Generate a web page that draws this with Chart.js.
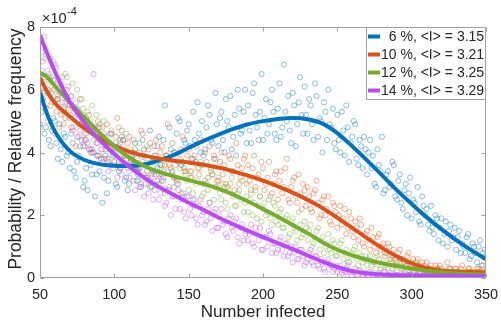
<!DOCTYPE html>
<html>
<head>
<meta charset="utf-8">
<script src="https://cdn.jsdelivr.net/npm/chart.js@4.4.1/dist/chart.umd.min.js"></script>
<style>
html,body{margin:0;padding:0;background:#fff;}
#wrap{width:501px;height:324px;}
</style>
</head>
<body>
<div id="wrap"><canvas id="c" width="501" height="324"></canvas></div>
<script>
// ---------- data (values in units of 1e-4) ----------
const seriesLabels = ["  6 %, <I> = 3.15", "10 %, <I> = 3.21", "12 %, <I> = 3.25", "14 %, <I> = 3.29"];
const xTitle = "Number infected";
const yTitle = "Probability / Relative frequency";
const xTicks = [50, 100, 150, 200, 250, 300, 350];
const yTicks = [0, 2, 4, 6, 8];

// scatter samples at even x
const scatterX = [
  50,52,54,56,58,60,62,64,66,68,
  70,72,74,76,78,80,82,84,86,88,
  90,92,94,96,98,100,102,104,106,108,
  110,112,114,116,118,120,122,124,126,128,
  130,132,134,136,138,140,142,144,146,148,
  150,152,154,156,158,160,162,164,166,168,
  170,172,174,176,178,180,182,184,186,188,
  190,192,194,196,198,200,202,204,206,208,
  210,212,214,216,218,220,222,224,226,228,
  230,232,234,236,238,240,242,244,246,248,
  250,252,254,256,258,260,262,264,266,268,
  270,272,274,276,278,280,282,284,286,288,
  290,292,294,296,298,300,302,304,306,308,
  310,312,314,316,318,320,322,324,326,328,
  330,332,334,336,338,340,342,344,346,348,
  350];
// scatter samples at odd x
const scatterX2 = [
  51,53,55,57,59,61,63,65,67,69,
  71,73,75,77,79,81,83,85,87,89,
  91,93,95,97,99,101,103,105,107,109,
  111,113,115,117,119,121,123,125,127,129,
  131,133,135,137,139,141,143,145,147,149,
  151,153,155,157,159,161,163,165,167,169,
  171,173,175,177,179,181,183,185,187,189,
  191,193,195,197,199,201,203,205,207,209,
  211,213,215,217,219,221,223,225,227,229,
  231,233,235,237,239,241,243,245,247,249,
  251,253,255,257,259,261,263,265,267,269,
  271,273,275,277,279,281,283,285,287,289,
  291,293,295,297,299,301,303,305,307,309,
  311,313,315,317,319,321,323,325,327,329,
  331,333,335,337,339,341,343,345,347,349];

const blueDots = [
  4.9,5.7,4.8,4.4,4.7,5.0,3.8,4.1,4.6,3.9,
  3.5,4.3,3.2,3.9,4.4,3.1,2.8,3.6,4.0,3.3,
  3.4,2.4,3.9,3.1,4.2,3.7,2.9,3.5,4.4,3.2,
  3.0,3.9,4.3,3.3,2.9,4.1,3.6,4.7,3.4,3.9,
  4.5,3.3,5.5,3.8,4.1,3.2,4.6,5.0,3.7,4.3,
  4.9,3.8,4.4,5.6,4.0,3.9,4.8,5.2,4.3,5.9,
  4.2,5.3,4.0,5.0,5.8,4.5,3.9,5.4,4.7,6.0,
  5.5,4.3,6.2,4.8,5.3,4.4,5.7,4.9,6.0,4.6,
  5.4,4.5,6.8,5.0,4.7,5.9,4.2,5.6,5.2,6.1,
  4.6,5.5,4.4,5.8,5.1,4.0,5.3,6.0,4.8,4.3,
  5.2,4.0,4.7,5.5,3.7,4.5,4.9,3.6,4.2,4.5,
  3.3,4.4,3.9,2.9,3.6,4.5,2.8,3.4,3.0,3.6,
  2.5,3.3,2.2,3.0,2.7,1.9,2.4,2.9,1.7,2.3,
  2.2,1.5,1.6,2.0,1.2,1.9,1.4,1.0,1.7,1.3,
  0.9,1.5,1.1,0.8,1.4,0.7,1.0,0.5,1.2,0.8,
  0.7];
const blueDots2 = [
  5.3,4.6,5.9,4.2,5.1,4.3,4.9,3.7,4.5,4.0,
  4.6,3.4,3.7,4.2,2.9,3.5,4.1,3.3,2.6,3.9,
  3.8,3.2,2.7,3.6,4.0,3.0,3.4,4.5,3.1,2.8,
  3.7,4.0,3.1,3.5,4.4,3.2,3.8,2.9,4.2,3.5,
  3.6,4.4,3.9,4.8,3.4,4.0,5.1,3.6,4.4,4.7,
  4.2,5.3,3.7,4.6,5.0,4.1,5.5,4.4,3.8,4.9,
  5.1,4.4,5.7,4.8,4.1,5.2,6.0,4.6,5.3,4.3,
  4.7,5.9,5.2,4.4,6.5,5.1,4.6,5.6,5.3,4.4,
  6.2,4.8,5.3,5.8,4.3,5.5,4.9,6.4,4.6,5.2,
  5.7,4.9,6.2,4.5,5.0,5.6,4.4,4.9,5.4,4.1,
  4.4,5.3,3.9,4.8,4.3,5.0,3.8,4.4,3.5,4.1,
  4.0,3.5,3.0,4.1,3.4,2.7,3.3,2.9,3.7,2.6,
  3.1,2.4,2.8,2.0,3.2,2.5,2.1,1.8,2.6,2.0,
  1.7,2.3,1.4,1.9,1.6,1.1,1.8,1.5,1.2,1.6,
  1.3,0.8,1.0,1.3,0.6,1.1,0.8,1.0,0.4,0.9];

const orangeDots = [
  4.8,6.1,5.4,6.3,5.9,4.6,5.7,5.2,4.9,5.8,
  5.5,4.7,4.2,5.3,4.9,4.4,5.0,4.1,4.7,4.3,
  3.9,4.8,4.3,3.7,4.6,4.0,5.1,3.5,4.4,3.8,
  4.5,3.6,4.1,3.4,4.7,3.9,3.2,4.3,3.7,4.4,
  3.3,4.2,3.6,4.9,3.5,4.0,3.1,3.8,4.5,3.4,
  4.1,3.2,3.9,3.5,4.4,3.0,3.7,4.2,3.3,3.8,
  3.1,4.0,3.6,2.9,3.8,3.4,4.3,3.0,3.5,3.9,
  3.6,2.8,3.9,3.2,2.6,3.5,3.0,3.7,2.7,3.3,
  2.5,3.4,2.9,3.8,2.4,3.1,2.6,3.3,2.2,2.8,
  2.9,2.2,2.7,3.1,1.9,2.5,2.0,2.6,1.7,2.3,
  1.6,2.3,1.9,1.4,2.1,1.5,1.8,1.2,1.7,1.0,
  1.5,0.9,1.3,0.8,1.4,1.0,0.7,1.1,0.6,0.9,
  0.5,0.9,0.6,0.4,0.8,0.5,0.3,0.6,0.4,0.2,
  0.5,0.3,0.2,0.4,0.1,0.3,0.2,0.5,0.3,0.1,
  0.3,0.2,0.4,0.1,0.3,0.2,0.1,0.3,0.2,0.4,
  0.2];
const orangeDots2 = [
  5.6,6.4,5.0,5.5,6.0,5.3,4.8,5.6,5.1,5.4,
  4.8,5.4,4.5,5.7,4.2,4.6,5.2,4.0,4.8,5.0,
  4.4,3.8,4.9,4.1,3.6,4.5,4.2,4.7,3.9,4.3,
  3.8,4.4,3.5,4.0,4.6,3.6,4.1,3.3,3.9,4.2,
  4.0,3.4,3.9,3.6,4.3,3.2,3.7,4.1,3.5,3.9,
  3.4,3.8,4.2,3.3,3.6,4.0,3.2,3.5,3.9,3.1,
  3.7,3.3,3.0,3.9,3.4,2.8,3.6,3.2,3.8,3.0,
  3.1,3.5,2.9,3.3,3.7,2.8,3.2,2.6,3.0,3.4,
  3.1,2.7,3.5,2.5,2.9,3.2,2.4,2.7,3.0,2.3,
  2.6,2.1,2.8,2.4,2.0,2.6,2.2,1.8,2.4,2.1,
  2.0,1.7,2.2,1.6,1.9,1.3,1.6,1.9,1.1,1.4,
  1.2,1.6,1.0,1.3,0.9,1.1,0.8,1.0,0.7,0.6,
  0.8,0.6,0.5,0.7,0.4,0.6,0.5,0.3,0.5,0.4,
  0.3,0.4,0.2,0.3,0.4,0.2,0.1,0.3,0.2,0.3,
  0.2,0.3,0.1,0.2,0.3,0.1,0.2,0.3,0.1,0.2];

const greenDots = [
  6.2,5.9,7.1,6.5,5.6,6.3,5.8,6.0,5.3,6.4,
  5.1,6.2,5.4,4.9,5.7,4.6,5.3,5.0,4.4,5.2,
  4.9,4.1,4.5,3.8,4.7,4.2,3.6,4.4,3.9,4.6,
  3.4,4.0,3.6,3.1,3.9,3.3,4.2,2.9,3.5,3.7,
  3.0,3.6,2.7,3.4,3.8,2.9,3.2,3.5,2.6,3.3,
  2.8,3.4,2.5,3.1,3.7,2.7,3.0,2.4,3.3,2.9,
  3.2,2.5,2.9,2.2,3.0,2.6,2.3,2.8,3.1,2.4,
  2.1,2.7,2.4,1.9,2.6,2.2,2.0,2.5,1.7,2.3,
  1.7,2.2,1.6,2.0,1.4,1.9,1.5,2.1,1.3,1.8,
  1.2,1.7,1.1,1.5,0.9,1.3,1.0,1.4,0.8,1.1,
  0.7,1.1,0.6,0.9,0.5,0.8,1.0,0.4,0.7,0.6,
  0.4,0.7,0.5,0.3,0.6,0.4,0.8,0.3,0.5,0.4,
  0.2,0.5,0.3,0.4,0.1,0.3,0.2,0.4,0.2,0.3,
  0.1,0.3,0.2,0.1,0.3,0.2,0.1,0.2,0.3,0.1,
  0.2,0.1,0.1,0.2,0.1,0.2,0.1,0.1,0.2,0.1,
  0.1];
const greenDots2 = [
  6.6,7.0,6.0,6.4,6.9,5.7,6.2,5.9,6.5,5.5,
  5.8,5.3,6.0,4.9,5.4,5.1,4.7,5.5,4.5,4.8,
  4.4,5.0,4.2,4.6,3.9,4.3,4.8,3.7,4.1,3.6,
  4.1,3.5,3.8,4.3,3.2,3.6,3.0,3.7,3.4,3.1,
  3.5,3.1,3.9,2.8,3.3,3.6,3.0,2.7,3.4,3.1,
  3.2,2.7,3.0,3.5,2.6,3.1,2.8,3.4,2.5,2.9,
  2.7,3.0,2.4,2.8,3.2,2.3,2.7,2.5,2.1,2.6,
  2.5,2.0,2.8,2.3,1.8,2.4,2.1,1.9,2.4,1.8,
  2.1,1.6,1.9,1.3,1.8,1.6,1.2,1.7,1.4,1.6,
  1.5,1.0,1.3,1.6,1.2,0.8,1.1,0.9,1.2,0.7,
  0.9,1.2,0.8,0.5,0.7,0.9,0.6,0.8,0.5,0.7,
  0.6,0.4,0.5,0.7,0.3,0.5,0.4,0.6,0.3,0.4,
  0.4,0.3,0.2,0.4,0.3,0.2,0.4,0.2,0.3,0.1,
  0.2,0.1,0.2,0.3,0.1,0.2,0.1,0.2,0.1,0.2,
  0.1,0.2,0.1,0.1,0.2,0.1,0.1,0.2,0.1,0.1];

const purpleDots = [
  7.5,6.9,7.3,6.4,6.1,6.8,5.7,6.2,5.4,6.0,
  5.2,4.8,5.6,4.5,4.9,4.2,4.3,4.0,6.5,3.9,
  4.8,3.7,4.1,3.4,4.6,3.9,3.2,4.3,3.6,4.0,
  3.2,3.8,2.8,3.5,3.0,2.6,3.4,3.1,2.5,3.3,
  2.5,3.1,2.3,2.8,2.0,2.6,3.0,2.2,2.7,1.9,
  2.6,2.0,2.3,1.7,2.5,2.1,1.8,2.4,1.5,2.2,
  1.6,2.2,1.8,1.3,2.0,1.5,1.9,1.1,1.7,1.4,
  1.2,1.7,1.0,1.4,1.6,0.9,1.3,1.5,0.8,1.1,
  0.9,1.3,0.7,1.1,0.8,0.5,1.0,0.6,0.9,0.4,
  0.6,0.9,0.4,0.7,0.3,0.5,0.2,0.6,0.4,0.3,
  0.2,0.4,0.1,0.3,0.2,0.05,0.3,0.1,0.2,0.1,
  0.1,0.2,0.05,0.1,0.15,0.05,0.2,0.1,0.05,0.1,
  0.1,0.05,0.1,0.15,0.05,0.1,0.0,0.1,0.05,0.1,
  0.05,0.1,0.05,0.1,0.0,0.1,0.05,0.1,0.05,0.1,
  0.1,0.05,0.0,0.1,0.05,0.1,0.05,0.0,0.1,0.05,
  0.05];
const purpleDots2 = [
  7.2,7.7,6.6,7.0,6.3,6.7,5.9,6.4,5.6,6.1,
  5.8,5.1,5.4,4.7,5.2,4.4,4.9,4.1,4.6,4.3,
  4.1,4.6,3.8,4.3,3.5,4.0,3.7,3.3,3.9,3.5,
  3.6,3.1,3.4,2.9,3.7,3.0,2.7,3.2,2.8,3.1,
  2.7,3.2,2.4,2.9,2.6,2.2,2.8,2.5,2.1,2.6,
  2.2,2.5,1.9,2.3,2.0,1.7,2.2,1.9,2.1,1.6,
  2.0,1.7,1.4,1.9,1.6,1.8,1.3,1.6,1.2,1.5,
  1.4,1.1,1.6,1.2,0.9,1.3,1.0,1.4,1.1,0.8,
  1.2,0.9,1.1,0.7,1.0,0.8,0.6,0.9,0.7,0.5,
  0.8,0.5,0.7,0.4,0.6,0.3,0.5,0.4,0.2,0.4,
  0.3,0.15,0.2,0.4,0.1,0.2,0.1,0.25,0.1,0.15,
  0.05,0.15,0.1,0.0,0.1,0.2,0.05,0.1,0.15,0.05,
  0.1,0.0,0.05,0.1,0.1,0.05,0.1,0.05,0.0,0.1,
  0.05,0.1,0.1,0.05,0.1,0.0,0.05,0.1,0.1,0.05,
  0.0,0.1,0.05,0.1,0.05,0.0,0.1,0.05,0.1,0.05];

// fitted curves
const lineX = [50,55,60,70,80,90,100,110,120,130,140,150,160,170,180,190,200,210,220,230,240,250,260,270,280,290,300,310,320,330,340,350];
const blueLine   = [5.93,5.20,4.68,4.05,3.76,3.63,3.58,3.57,3.62,3.75,3.92,4.15,4.37,4.57,4.75,4.90,5.00,5.07,5.10,5.06,4.92,4.62,4.20,3.75,3.28,2.80,2.36,1.94,1.56,1.21,0.89,0.60];
const orangeLine = [6.38,5.93,5.58,5.15,4.77,4.46,4.21,4.03,3.90,3.81,3.74,3.68,3.61,3.52,3.40,3.26,3.10,2.92,2.72,2.49,2.23,1.92,1.60,1.27,0.96,0.69,0.47,0.32,0.24,0.20,0.19,0.18];
const greenLine  = [6.54,6.40,6.12,5.60,5.11,4.63,4.20,3.84,3.57,3.38,3.24,3.12,3.00,2.85,2.66,2.44,2.20,1.95,1.69,1.43,1.14,0.90,0.72,0.58,0.47,0.38,0.30,0.23,0.18,0.14,0.12,0.10];
const purpleLine = [7.74,7.14,6.58,5.62,4.94,4.40,3.95,3.55,3.20,2.90,2.65,2.40,2.17,1.93,1.71,1.50,1.30,1.11,0.92,0.72,0.52,0.35,0.22,0.15,0.11,0.09,0.08,0.07,0.07,0.07,0.06,0.06];

// ---------- styling ----------
const colors = ['rgb(0,114,189)', 'rgb(217,83,25)', 'rgb(119,172,48)', 'rgb(183,76,245)'];
const dotColors = ['rgba(0,114,189,0.5)', 'rgba(217,83,25,0.5)', 'rgba(119,172,48,0.5)', 'rgba(183,76,245,0.5)'];
const FONT = "'Liberation Sans', Arial, Helvetica, sans-serif";
const TEXT = '#262626';
const AXIS = '#a0a0a0';

const pts = (xs, ys) => xs.map((x, i) => ({x: x, y: ys[i]}));
const lines = [blueLine, orangeLine, greenLine, purpleLine];
const dots = [blueDots, orangeDots, greenDots, purpleDots];
const dots2 = [blueDots2, orangeDots2, greenDots2, purpleDots2];

const datasets = [];
for (let k = 3; k >= 0; k--) {
  datasets.push({
    type: 'line', data: pts(lineX, lines[k]), borderColor: colors[k], borderWidth: 4,
    pointRadius: 0, fill: false, cubicInterpolationMode: 'monotone', showLine: true
  });
}
for (let k = 3; k >= 0; k--) {
  datasets.push({
    type: 'scatter', data: pts(scatterX, dots[k]).concat(pts(scatterX2, dots2[k])), borderColor: dotColors[k],
    backgroundColor: 'rgba(0,0,0,0)', pointRadius: 2.6, pointBorderWidth: 0.9, showLine: false
  });
}

const decor = {
  id: 'decor',
  afterDatasetsDraw(chart) {
    const {ctx, chartArea: a, scales: {x, y}} = chart;
    ctx.save();
    ctx.strokeStyle = AXIS; ctx.lineWidth = 1;
    const L = Math.round(a.left) + 0.5, R = Math.round(a.right) - 0.5;
    const T = Math.round(a.top) + 0.5, B = Math.round(a.bottom) - 0.5;
    ctx.strokeRect(L, T, R - L, B - T);
    ctx.beginPath();
    xTicks.forEach(v => {
      const px = Math.round(x.getPixelForValue(v)) + 0.5;
      ctx.moveTo(px, B); ctx.lineTo(px, B - 4);
      ctx.moveTo(px, T); ctx.lineTo(px, T + 4);
    });
    yTicks.forEach(v => {
      const py = Math.round(y.getPixelForValue(v)) + 0.5;
      ctx.moveTo(L, py); ctx.lineTo(L + 4, py);
      ctx.moveTo(R, py); ctx.lineTo(R - 4, py);
    });
    ctx.stroke();

    ctx.fillStyle = TEXT;
    // y title
    ctx.save();
    ctx.translate(16, 149);
    ctx.rotate(-Math.PI / 2);
    ctx.font = '17.5px ' + FONT;
    ctx.textAlign = 'center'; ctx.textBaseline = 'middle';
    ctx.fillText(yTitle, 0, 0);
    ctx.restore();

    // exponent label
    ctx.textBaseline = 'alphabetic'; ctx.textAlign = 'left';
    ctx.font = '14.5px ' + FONT;
    ctx.fillText('\u00d710', 42, 23);
    const w = ctx.measureText('\u00d710').width;
    ctx.font = '11px ' + FONT;
    ctx.fillText('-4', 42 + w + 0.5, 15);

    // legend
    const lx0 = 366.5, ly0 = T, lx1 = R, ly1 = 99.5;
    ctx.fillStyle = '#fff';
    ctx.fillRect(lx0, ly0, lx1 - lx0, ly1 - ly0);
    ctx.strokeStyle = AXIS;
    ctx.strokeRect(lx0, ly0, lx1 - lx0, ly1 - ly0);
    ctx.font = '14px ' + FONT;
    ctx.textBaseline = 'middle';
    seriesLabels.forEach((lab, i) => {
      const cy = 36.5 + i * 18;
      ctx.strokeStyle = colors[i]; ctx.lineWidth = 4;
      ctx.beginPath(); ctx.moveTo(368, cy); ctx.lineTo(380, cy); ctx.stroke();
      ctx.fillStyle = TEXT;
      ctx.fillText(lab, 381, cy + 0.5);
    });
    ctx.restore();
  }
};

new Chart(document.getElementById('c'), {
  type: 'scatter',
  data: {datasets: datasets},
  options: {
    responsive: false, animation: false, devicePixelRatio: 1,
    layout: {padding: {top: 27, right: 15, left: 0, bottom: 0}},
    plugins: {legend: {display: false}, tooltip: {enabled: false}},
    scales: {
      x: {
        type: 'linear', min: 50, max: 350,
        afterBuildTicks: s => { s.ticks = xTicks.map(v => ({value: v})); },
        afterFit: s => { s.height = 46; s.paddingLeft = 0; s.paddingRight = 0; },
        grid: {display: false, drawTicks: false},
        border: {display: false},
        ticks: {color: TEXT, font: {family: FONT, size: 14.5}, padding: 8, maxRotation: 0},
        title: {display: true, text: xTitle, color: TEXT, font: {family: FONT, size: 17}, padding: {top: 0, bottom: 1}}
      },
      y: {
        type: 'linear', min: 0, max: 8,
        afterBuildTicks: s => { s.ticks = yTicks.map(v => ({value: v})); },
        afterFit: s => { s.width = 40; s.paddingTop = 0; s.paddingBottom = 0; },
        grid: {display: false, drawTicks: false},
        border: {display: false},
        ticks: {color: TEXT, font: {family: FONT, size: 14.5}, padding: 5},
        title: {display: false}
      }
    }
  },
  plugins: [decor]
});
</script>
</body>
</html>
